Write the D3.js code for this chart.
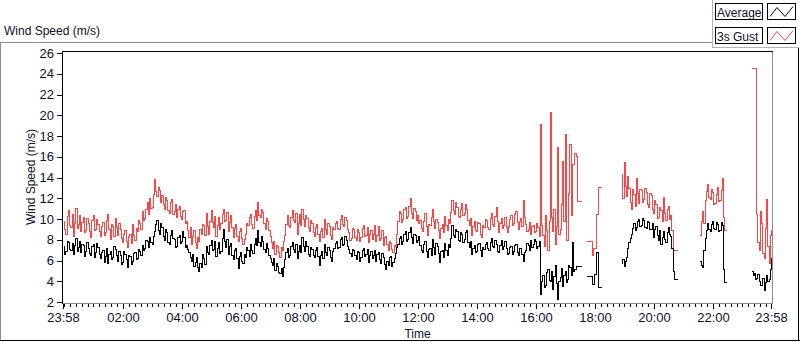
<!DOCTYPE html>
<html><head><meta charset="utf-8">
<script src="https://cdn.jsdelivr.net/npm/d3@7"></script>
<style>
html,body{margin:0;padding:0;background:#fff;}
svg{display:block;}
text{font-family:"Liberation Sans",Arial,sans-serif;fill:#10102a;}
.tick text{font-family:"Liberation Sans Narrow","Liberation Sans",Arial,sans-serif;font-size:13px;}
</style>
</head><body>
<svg id="chart" width="800" height="342"></svg>
<script>
// ---- data (2.5-minute samples starting 23:58; null = no data) ----
const stepMinutes = 2.5;
const averageSpeed = [
7.4,6.6, 6.9,7.9, 7.8,7.1, 7.0,7.7, 6.6,7.5, 8.2,6.9, 7.3,7.9, 6.8,7.6,
7.5,6.4, 6.9,7.8, 7.2,6.7, 6.5,7.4, 7.6,6.3, 6.8,7.7, 7.3,6.6,
6.2,6.8, 7.0,5.9, 6.4,7.2, 5.8,6.6, 6.9,6.1, 6.3,7.4, 7.1,6.5, 6.0,6.9, 6.5,5.7,
5.9,6.9, 6.6,6.1, 5.4,6.5, 6.4,5.7, 6.0,6.7, 6.8,6.1, 6.2,7.1,
6.9,6.5, 7.5,7.0, 7.2,8.0, 7.9,7.3, 8.3,7.8, 7.6,8.4,
8.8,9.5, 9.9,8.9, 8.6,9.6,
9.2,8.4, 8.0,9.0, 8.7,7.8, 7.6,8.5, 8.9,8.2, 8.1,7.3, 7.4,8.3, 8.5,7.7, 7.9,8.8, 8.3,7.3, 7.5,7.1,
6.8,6.3, 6.0,6.6, 5.5,5.9, 6.3,5.4, 5.0,5.8, 5.4,6.6,
6.2,5.7, 7.4,6.8, 6.6,7.5, 8.0,7.0, 7.1,7.9, 6.4,7.2, 7.8,6.7, 6.9,8.2, 9.0,7.9, 7.3,8.1, 6.6,7.4, 7.7,6.5, 6.1,7.0, 7.2,6.2, 5.3,6.4, 6.8,6.0,
5.8,6.6, 6.3,7.3,
7.0,6.4, 7.6,7.0, 6.7,7.6, 8.2,7.5, 8.9,7.8, 7.4,8.4, 7.9,7.1, 6.8,7.7, 7.2,6.5, 6.2,5.9,
5.6,6.2, 5.1,5.8, 5.5,4.9, 4.8,5.3, 4.5,5.4,
6.1,6.8, 7.2,6.3, 6.5,7.4, 7.8,7.1, 6.8,7.6, 6.2,6.9, 7.5,6.8, 8.3,7.4, 6.9,7.9, 7.4,6.6, 6.4,7.3, 7.1,6.5,
6.3,7.0, 7.3,6.4, 5.6,6.5, 6.9,6.2, 7.6,6.8, 6.5,7.3, 7.0,6.3, 6.0,6.9, 7.2,7.7,
7.9,7.2, 7.3,8.1, 8.3,7.5, 7.6,8.4, 8.0,7.4, 7.1,6.7,
6.4,7.1, 7.0,6.5, 6.1,6.9, 6.8,6.0, 6.3,7.0, 7.2,6.4, 6.6,7.1, 5.9,6.5, 6.9,6.2,
6.5,7.0, 6.0,6.6, 6.8,6.1, 5.8,6.7, 6.3,5.7, 5.2,6.0, 5.6,6.3, 6.4,5.5, 5.9,6.2, 6.7,7.3,
7.6,8.2, 8.4,7.6, 7.9,8.6, 8.8,7.9, 8.1,8.7, 9.2,8.3, 7.7,8.6, 8.5,7.8, 8.0,8.4,
7.5,7.0, 6.8,7.6, 7.9,6.9, 6.3,7.1, 7.2,6.5, 8.1,7.3, 6.6,7.7, 7.4,6.7, 5.9,6.9, 7.0,6.3, 7.7,7.0, 6.5,7.6, 7.3,8.2,
9.4,8.5, 8.3,9.0, 8.8,8.0, 7.9,8.7, 8.6,7.8, 8.1,8.7, 8.9,7.8,
7.3,7.9, 6.6,7.2, 7.5,6.8, 6.9,7.6, 7.7,7.0, 6.4,7.3, 7.1,7.6,
7.8,7.2, 7.0,7.8, 8.2,7.4, 7.3,8.0, 7.6,6.9, 6.8,7.5, 8.0,7.1, 7.4,7.9, 7.2,6.6,
6.7,7.3, 7.4,6.6, 6.9,7.5, 7.6,6.8, 6.5,7.2, 7.2,6.6, 6.0,6.8, 7.0,7.7,
7.5,7.0, 8.0,7.3, 7.6,8.1, 7.9,7.2, 7.4,7.9,
2.8,4.0, 4.6,3.4, 3.6,4.9, 5.2,4.1, 4.0,5.0, 3.3,4.5, 5.6,3.8, 2.3,4.0, 4.4,5.3, 3.5,4.6, 5.0,3.9, 4.2,5.6, 5.4,4.6, 7.8,5.0, 5.2,5.5, 5.5,5.5, 5.5,5.5, 5.5,null,
null,null,
4.5,4.5, 4.5,4.5, 3.7,3.7, 4.7,4.7, 6.8,3.4, 3.4,3.4, 3.4,null,
null,null, null,null, null,null, null,null, null,null, null,null, null,null,
5.8,6.1, 5.5,6.0, 6.3,7.2, 7.8,8.2, 8.6,9.1, 9.6,8.9, 9.2,9.8, 10.0,9.3, 9.4,10.1, 9.9,9.2, 9.1,9.8, 9.7,9.0, 9.0,9.6, 8.3,9.0, 9.3,8.5, 8.0,8.9, 7.6,8.3, 8.8,8.1, 7.8,8.7, 9.2,8.6, 8.4,7.2, 5.0,4.2, 4.2,4.2, 4.2,null,
null,null, null,null, null,null, null,null, null,null, null,null, null,null, null,null,
6.0,5.6, 5.4,7.0, 8.2,8.9, 9.6,9.0, 8.8,9.5, 9.8,9.1, 9.0,9.7, 9.5,8.8, 8.9,9.7, 9.4,5.2, 3.95,3.95, 3.95,null,
null,null, null,null, null,null, null,null, null,null, null,null, null,null, null,null, null,null,
5.0,4.6, 4.8,4.2, 4.3,4.7, 4.0,3.6, 3.6,4.3, 3.2,3.9, 4.6,4.0, 4.2,5.2, 6.3
];
const gustSpeed = [
9.8,9.0, 8.6,10.3, 10.9,9.4, 9.2,10.5, 8.4,9.6, 11.1,9.1, 9.5,10.4, 8.8,9.7,
10.2,8.7, 8.9,10.1, 9.6,8.8, 8.3,9.9, 10.4,8.9, 9.0,10.0, 9.5,8.8,
8.4,9.3, 9.7,8.5, 8.7,9.9, 10.5,9.0, 8.1,9.5, 9.3,8.4, 10.1,9.2, 8.5,9.6, 9.0,8.2,
7.8,8.6, 8.9,7.9, 7.3,8.4, 8.6,7.7, 9.5,8.5, 8.0,9.1, 8.8,9.9,
9.6,9.0, 10.8,9.9, 10.1,11.0, 11.6,10.5, 12.0,11.1, 11.2,12.4,
13.9,12.7, 12.2,13.1, 12.8,11.6,
12.3,11.4, 11.0,12.1, 11.8,10.9, 10.6,11.6, 11.9,10.5, 10.8,11.4, 10.2,11.0, 11.3,10.3, 10.0,10.8, 10.9,9.6, 9.8,8.9,
8.3,9.2, 7.6,8.4, 8.9,7.8, 7.2,8.3, 7.9,9.0, 8.6,9.5,
9.4,8.5, 10.6,9.3, 8.6,9.8, 10.9,9.7, 9.2,10.3, 8.4,9.4, 10.2,9.0, 9.6,10.5, 11.0,9.8, 9.9,10.7, 8.8,9.7, 10.4,9.2, 8.3,9.1, 9.5,8.4, 7.9,8.8, 9.1,8.2,
7.6,8.1, 8.6,9.6,
9.4,10.2, 10.5,9.5, 9.1,10.3, 10.9,9.9, 11.6,10.4, 10.2,11.0, 10.7,9.6, 9.0,10.1, 9.8,8.9, 8.4,7.8,
7.2,7.9, 6.6,7.5, 7.4,6.8, 6.3,7.3, 7.0,7.9,
8.5,9.5, 10.4,9.4, 9.2,10.2, 10.9,9.9, 9.7,10.6, 8.6,9.6, 10.5,9.4, 11.0,10.0, 9.3,10.4, 10.1,9.2, 8.8,9.9, 9.6,8.7,
8.4,9.2, 9.5,8.6, 7.9,8.8, 9.1,8.3, 10.0,9.0, 8.6,9.6, 9.3,8.5, 8.1,9.2, 9.0,9.6,
9.8,9.1, 9.0,10.0, 10.4,9.5, 9.3,10.2, 9.9,9.0, 8.7,8.0,
8.2,9.1, 9.0,8.3, 8.0,9.0, 8.7,7.9, 8.3,9.1, 9.4,8.4, 8.5,9.2, 7.8,8.6, 8.9,8.1,
8.6,9.4, 7.9,8.5, 9.3,8.0, 8.2,8.9, 7.5,8.3, 8.4,7.6, 7.0,7.9, 7.7,7.1, 6.8,7.5, 7.4,8.6,
9.8,10.8, 10.6,9.7, 10.0,11.0, 11.2,10.1, 10.3,11.3, 12.0,10.6, 10.1,11.1, 10.8,9.9, 10.4,9.6,
9.9,9.1, 8.8,9.8, 10.6,9.3, 8.5,9.5, 9.4,10.2, 11.0,9.8, 9.1,10.0, 9.7,8.9, 8.2,9.1, 9.5,8.7, 10.3,9.4, 8.9,10.0, 9.6,10.7,
11.8,10.9, 10.5,11.6, 11.2,10.3, 10.2,11.0, 11.5,10.4, 10.6,11.4, 11.0,9.9,
9.4,10.1, 8.5,9.3, 9.8,8.9, 8.8,9.7, 9.6,8.6, 8.3,9.4, 9.2,10.0,
9.9,9.2, 9.0,10.1, 10.6,9.5, 9.3,10.3, 11.2,9.8, 8.7,9.6, 10.1,9.1, 9.4,10.2, 9.2,8.7,
9.3,10.0, 10.4,9.4, 9.6,10.5, 10.8,9.7, 9.0,9.8, 10.1,9.3, 11.8,10.2, 9.5,8.8,
9.0,9.7, 8.6,9.3, 9.4,8.7, 8.8,9.6, 9.2,8.4,
19.2,9.4, 8.5,7.4, 10.4,8.9, 7.0,9.8, 20.3,10.2, 8.8,11.0, 7.6,9.3, 16.9,8.6, 9.0,11.4, 15.6,9.8, 18.2,8.0, 8.0,12.5, 17.2,10.4, 15.3,15.3, 16.4,16.1, 11.7,11.7, 11.7,11.7, 11.7,null,
null,null,
7.9,7.9, 7.9,7.9, 6.5,7.2, 7.2,7.2, 10.5,13.1, 13.1,13.1, 13.1,null,
null,null, null,null, null,null, null,null, null,null, null,null, null,null,
14.3,12.0, 15.5,13.2, 12.2,14.1, 13.0,11.6, 11.0,12.9, 12.4,11.3, 14.0,12.5, 11.5,12.9, 12.8,11.6, 11.9,13.0, 12.6,11.4, 11.2,12.5, 12.3,11.0, 10.6,11.8, 11.4,10.1, 10.2,11.2, 10.9,9.8, 12.1,10.6, 9.9,11.0, 11.3,10.0, 10.4,8.9, 7.05,7.05, 7.05,7.05, 7.05,null,
null,null, null,null, null,null, null,null, null,null, null,null, null,null, null,null,
8.5,9.8, 10.8,9.6, 11.8,12.7, 13.4,12.1, 11.9,12.9, 12.6,11.4, 11.5,12.4, 13.1,11.7, 11.8,12.8, 14.0,10.2, 8.9,8.9, 8.9,null,
null,null, null,null, null,null, null,null, null,null, null,null, null,null, null,null, null,null,
24.6,24.6, 24.6,24.6, 10.5,7.8, 7.0,10.8, 9.6,6.7, 6.2,9.1, 11.9,7.4, 5.8,8.5, 9.0
];
const seriesNames = ["Average", "3s Gust"];
const seriesColors = ["#000000", "#ff4444"];
const yTickValues = [2,4,6,8,10,12,14,16,18,20,22,24,26];
const xMajorTicks = [0,122,242,362,482,602,722,842,962,1082,1202,1322,1440];
const xTickLabels = ["23:58","02:00","04:00","06:00","08:00","10:00","12:00","14:00","16:00","18:00","20:00","22:00","23:58"];
const xMinorStart = 2, xMinorStep = 12, totalMinutes = 1440;

// ---- chart ----
const svg = d3.select("#chart");
const x = d3.scaleLinear().domain([0, totalMinutes]).range([63.5, 771.5]);
const y = d3.scaleLinear().domain([2, 26]).range([302.5, 53.5]);

const minorTicks = d3.range(xMinorStart, totalMinutes, xMinorStep);

// frame
const frame = svg.append("g").attr("fill","none").attr("shape-rendering","crispEdges");
frame.append("line").attr("x1",0).attr("x2",712).attr("y1",42.5).attr("y2",42.5).attr("stroke","#8c8c8c");
frame.append("line").attr("x1",0.5).attr("x2",0.5).attr("y1",42).attr("y2",341).attr("stroke","#8c8c8c");
frame.append("line").attr("x1",0).attr("x2",800).attr("y1",340.5).attr("y2",340.5).attr("stroke","#000");
frame.append("line").attr("x1",798.5).attr("x2",798.5).attr("y1",47).attr("y2",341).attr("stroke","#000");
frame.append("line").attr("x1",712.5).attr("x2",712.5).attr("y1",0).attr("y2",47).attr("stroke","#b4b4b4");
frame.append("line").attr("x1",712).attr("x2",799).attr("y1",47.5).attr("y2",47.5).attr("stroke","#b4b4b4");

// plot area border
frame.append("line").attr("x1",62).attr("x2",773).attr("y1",51.5).attr("y2",51.5).attr("stroke","#000");
frame.append("line").attr("x1",62.5).attr("x2",62.5).attr("y1",51).attr("y2",304).attr("stroke","#000");
frame.append("line").attr("x1",772.5).attr("x2",772.5).attr("y1",52).attr("y2",304).attr("stroke","#8c8c8c");
frame.append("line").attr("x1",63).attr("x2",773).attr("y1",303.5).attr("y2",303.5).attr("stroke","#8c8c8c");

// title
svg.append("text").attr("x",4).attr("y",35).attr("font-size",12).text("Wind Speed (m/s)");

// y axis
const yAxis = svg.append("g").attr("transform","translate(62,0)")
  .call(d3.axisLeft(y).tickValues(yTickValues).tickSize(5).tickPadding(3).offset(0));
yAxis.select(".domain").remove();
yAxis.selectAll(".tick line").attr("stroke","#000").attr("shape-rendering","crispEdges");

// x axis minor
const xMinor = svg.append("g").attr("transform","translate(0,304)")
  .call(d3.axisBottom(x).tickValues(minorTicks).tickSize(3).tickFormat("").offset(0));
xMinor.select(".domain").remove();
xMinor.selectAll(".tick line").attr("stroke","#000").attr("shape-rendering","crispEdges");
// x axis major
const xMajor = svg.append("g").attr("transform","translate(0,304)")
  .call(d3.axisBottom(x).tickValues(xMajorTicks).tickSize(5).tickPadding(4).offset(0)
    .tickFormat((d,i) => xTickLabels[i]));
xMajor.select(".domain").remove();
xMajor.selectAll(".tick line").attr("stroke","#000").attr("shape-rendering","crispEdges");
xMajor.selectAll(".tick text").attr("fill","#10102a");
yAxis.selectAll(".tick text").attr("fill","#10102a");

// axis titles
svg.append("text").attr("x",(63.5+771.5)/2).attr("y",338).attr("text-anchor","middle").attr("font-size",12).text("Time");
svg.append("text").attr("transform","translate(35,177) rotate(-90)").attr("text-anchor","middle").attr("font-size",12).text("Wind Speed (m/s)");

// series
const line = d3.line()
  .defined(d => d.v !== null)
  .x(d => x(d.t))
  .y(d => y(d.v))
  .curve(d3.curveStepAfter);
const toPoints = arr => arr.map((v,i) => ({t: i*stepMinutes, v}));
const plot = svg.append("g").attr("shape-rendering","crispEdges");
plot.append("path").datum(toPoints(gustSpeed)).attr("d", line)
  .attr("fill","none").attr("stroke",seriesColors[1]).attr("stroke-width",1);
plot.append("path").datum(toPoints(averageSpeed)).attr("d", line)
  .attr("fill","none").attr("stroke",seriesColors[0]).attr("stroke-width",1);

// legend
const legendRows = [{y:3.5},{y:27.5}];
seriesNames.forEach((name,i) => {
  const g = svg.append("g").attr("transform",`translate(0,${legendRows[i].y})`);
  g.append("rect").attr("x",715.5).attr("y",0).attr("width",47).attr("height",16)
    .attr("fill","#fff").attr("stroke","#000").attr("shape-rendering","crispEdges");
  g.append("text").attr("x",717).attr("y",13).attr("font-size",12).text(name);
  g.append("rect").attr("x",767.5).attr("y",0).attr("width",28).attr("height",16)
    .attr("fill","#fff").attr("stroke","#000").attr("shape-rendering","crispEdges");
  g.append("polyline").attr("points","770,13 777,4 785,13 793,3")
    .attr("fill","none").attr("stroke",seriesColors[i]).attr("stroke-width",1);
});
</script>
</body></html>
